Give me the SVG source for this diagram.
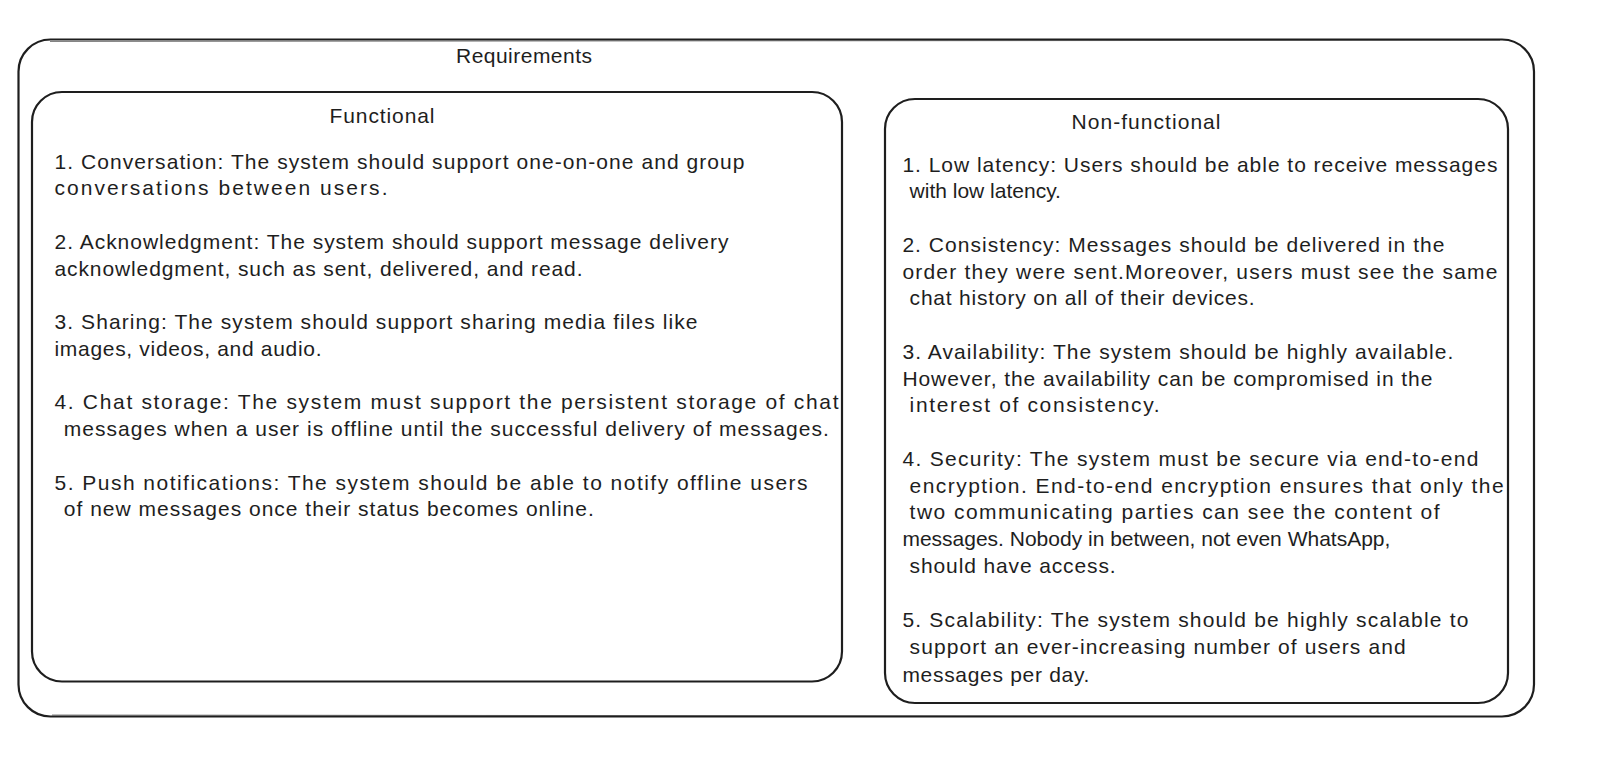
<svg xmlns="http://www.w3.org/2000/svg" width="1614" height="764" viewBox="0 0 1614 764">
<style>
.box{fill:none;stroke:#1e1e1e;stroke-width:2.2;stroke-linecap:round;stroke-linejoin:round}
.sk{fill:none;stroke:#1e1e1e;stroke-width:1;opacity:0.55}
text{font-family:"Liberation Sans","Open Sans",sans-serif;font-size:21px;fill:#1e1e1e}
.t{text-anchor:middle}
</style>
<rect width="1614" height="764" fill="#ffffff"/>
<g id="requirements">
<rect class="box" x="18.5" y="39.5" width="1515.5" height="677" rx="32" ry="32"/>
<path class="sk" d="M50 41.5 L1500 40.2"/>
<path class="sk" d="M52 715 L1502 716.5"/>
<text class="t" x="524" y="63" textLength="136" lengthAdjust="spacing">Requirements</text>
</g>
<g id="functional">
<rect class="box" x="32" y="92" width="810" height="589.5" rx="30" ry="30"/>
<text class="t" x="382" y="123" textLength="105" lengthAdjust="spacing">Functional</text>
<text x="54.5" y="168.5" textLength="690" lengthAdjust="spacing">1. Conversation: The system should support one-on-one and group</text>
<text x="54.5" y="195.3" textLength="333" lengthAdjust="spacing">conversations between users.</text>
<text x="54.5" y="248.8" textLength="674" lengthAdjust="spacing">2. Acknowledgment: The system should support message delivery</text>
<text x="54.5" y="275.5" textLength="528" lengthAdjust="spacing">acknowledgment, such as sent, delivered, and read.</text>
<text x="54.5" y="329" textLength="643" lengthAdjust="spacing">3. Sharing: The system should support sharing media files like</text>
<text x="54.5" y="355.8" textLength="267" lengthAdjust="spacing">images, videos, and audio.</text>
<text x="54.5" y="409.3" textLength="784" lengthAdjust="spacing">4. Chat storage: The system must support the persistent storage of chat</text>
<text x="63.8" y="436" textLength="765" lengthAdjust="spacing">messages when a user is offline until the successful delivery of messages.</text>
<text x="54.5" y="489.5" textLength="753" lengthAdjust="spacing">5. Push notifications: The system should be able to notify offline users</text>
<text x="63.8" y="516.3" textLength="530" lengthAdjust="spacing">of new messages once their status becomes online.</text>
</g>
<g id="non-functional">
<rect class="box" x="885" y="99" width="623" height="604" rx="30" ry="30"/>
<text class="t" x="1146" y="128.5" textLength="149" lengthAdjust="spacing">Non-functional</text>
<text x="902.4" y="171.6" textLength="595" lengthAdjust="spacing">1. Low latency: Users should be able to receive messages</text>
<text x="909.6" y="198.4">with low latency.</text>
<text x="902.4" y="251.9" textLength="542" lengthAdjust="spacing">2. Consistency: Messages should be delivered in the</text>
<text x="902.4" y="278.6" textLength="595" lengthAdjust="spacing">order they were sent.Moreover, users must see the same</text>
<text x="909.6" y="305.4" textLength="345" lengthAdjust="spacing">chat history on all of their devices.</text>
<text x="902.4" y="358.9" textLength="551" lengthAdjust="spacing">3. Availability: The system should be highly available.</text>
<text x="902.4" y="385.6" textLength="530" lengthAdjust="spacing">However, the availability can be compromised in the</text>
<text x="909.6" y="412.4" textLength="250" lengthAdjust="spacing">interest of consistency.</text>
<text x="902.4" y="465.9" textLength="576" lengthAdjust="spacing">4. Security: The system must be secure via end-to-end</text>
<text x="909.6" y="492.6" textLength="594" lengthAdjust="spacing">encryption. End-to-end encryption ensures that only the</text>
<text x="909.6" y="519.4" textLength="530" lengthAdjust="spacing">two communicating parties can see the content of</text>
<text x="902.4" y="546.1">messages. Nobody in between, not even WhatsApp,</text>
<text x="909.6" y="572.9" textLength="206" lengthAdjust="spacing">should have access.</text>
<text x="902.4" y="627.4" textLength="566" lengthAdjust="spacing">5. Scalability: The system should be highly scalable to</text>
<text x="909.6" y="654.1" textLength="496" lengthAdjust="spacing">support an ever-increasing number of users and</text>
<text x="902.4" y="681.9" textLength="187" lengthAdjust="spacing">messages per day.</text>
</g>
<g id="connectors"></g>
</svg>
